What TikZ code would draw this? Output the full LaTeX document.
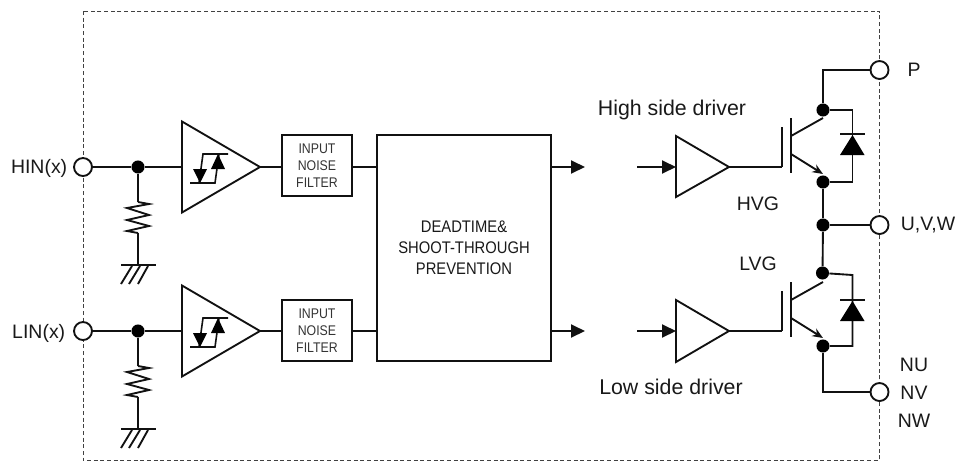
\documentclass[tikz,border=0pt]{standalone}
\usepackage{fontspec}
\setmainfont{Liberation Sans}
\newfontfamily\narrowf[FakeStretch=0.88]{Liberation Sans}
\usetikzlibrary{arrows.meta}
\definecolor{ink}{HTML}{111111}
\tikzset{
  x=0.75pt,y=-0.75pt,
  wire/.style={draw=ink,line width=1.4pt,line join=miter},
  thin wire/.style={draw=ink,line width=1.2pt},
  frame/.style={draw=ink!80,line width=0.75pt,densely dashed},
  term/.style={circle,draw=ink,fill=white,line width=1.4pt,minimum size=13.5pt,inner sep=0pt},
  dot/.style={circle,fill=black,minimum size=9.8pt,inner sep=0pt},
  fbox/.style={draw=ink,line width=1.5pt,minimum width=52.5pt,minimum height=45.75pt,inner sep=0pt,align=center,font=\narrowf\fontsize{10.5}{12.75}\selectfont,text=black!80},
  bigbox/.style={draw=ink,line width=1.5pt,minimum width=130.5pt,minimum height=169.5pt,inner sep=0pt,align=center,font=\narrowf\fontsize{12.6}{15.75}\selectfont,text=black!90},
  lab/.style={font=\fontsize{14.6}{15}\selectfont,text=black!90,inner sep=0pt},
  biglab/.style={font=\fontsize{16}{16}\selectfont,text=black!90,inner sep=0pt},
  solidhead/.style={fill=black,draw=none},
  sig/.style={wire,-{Triangle[length=10.5pt,width=9.75pt]}},
}
\newcommand{\inputchain}[2]{%
  \begin{scope}[shift={(0,#1)}]
    \coordinate (tl#2) at (182,-45.5);
    \coordinate (bl#2) at (182,45.5);
    \coordinate (tip#2) at (260,0);
    \coordinate (in#2) at (182,0);
    \draw[wire,fill=white] (tl#2) -- (tip#2) -- (bl#2) -- cycle;
    \draw[thin wire] (190,16) -- (215,16) -- (219,-13) -- (228,-13) (228,-13) -- (203,-13) -- (199,16);
    \fill[solidhead] (193,2) -- (207,2) -- (200,16) -- cycle;
    \fill[solidhead] (211,2) -- (225,2) -- (218,-13) -- cycle;
    \coordinate (rt#2) at (138,35);
    \coordinate (rb#2) at (138,66);
    \coordinate (gnd#2) at (138,98);
    \draw[wire] (rt#2) -- (149,37) -- (127,41) -- (149,48) -- (127,53) -- (149,59) -- (127,64) -- (rb#2);
    \draw[wire] (rb#2) -- (gnd#2);
    \draw[wire] (121,98) -- (156,98);
    \draw[wire] (132,99) -- (121,117) (140,99) -- (129,117) (148,99) -- (138,117);
  \end{scope}
}
\newcommand{\igbt}[2]{%
  \begin{scope}[shift={(0,#1)}]
    \draw[wire] (782,-40) -- (782,0);
    \draw[wire] (791,-49) -- (791,6);
    \draw[wire] (791,-31) -- (823,-49);
    \draw[wire,-{Stealth[length=8pt,width=6.5pt]}] (791,-13) -- (823,7);
  \end{scope}
}
\begin{document}
\begin{tikzpicture}
\useasboundingbox (0,0) rectangle (956,461);
\draw[frame] (83,11) rectangle (879.5,460.3);

\inputchain{167}{A}
\inputchain{331}{B}

\node[fbox] (fa) at (317,165.5) {\raisebox{-0.75pt}{INPUT}\\\raisebox{-0.75pt}{NOISE}\\\raisebox{-0.75pt}{FILTER}};
\node[fbox] (fb) at (317,330.5) {\raisebox{-0.75pt}{INPUT}\\\raisebox{-0.75pt}{NOISE}\\\raisebox{-0.75pt}{FILTER}};
\node[bigbox] (core) at (464,248) {DEADTIME\&\\SHOOT-THROUGH\\PREVENTION};

\node[term] (hin) at (83,167) {};
\node[term] (lin) at (83,331) {};
\node[dot] (ja) at (138,167) {};
\node[dot] (jb) at (138,331) {};

\draw[wire] (hin) -- (ja);
\draw[wire] (ja) -- (inA);
\draw[wire] (ja) -- (rtA);
\draw[wire] (tipA) -- (fa.west |- tipA);
\draw[wire] (fa.east |- tipA) -- (core.west |- tipA);
\draw[wire] (lin) -- (jb);
\draw[wire] (jb) -- (inB);
\draw[wire] (jb) -- (rtB);
\draw[wire] (tipB) -- (fb.west |- tipB);
\draw[wire] (fb.east |- tipB) -- (core.west |- tipB);

\node[lab,anchor=east] at (67.5,168.5) {HIN(x)};
\node[lab,anchor=east] at (65.5,333.5) {LIN(x)};

\coordinate (oa) at (585,167);
\coordinate (ob) at (585,331);
\draw[sig] (core.east |- oa) -- (oa);
\draw[sig] (core.east |- ob) -- (ob);

\coordinate (da) at (676,167);
\coordinate (db) at (676,331);
\coordinate (sa) at (637,167);
\coordinate (sb) at (637,331);
\draw[sig] (sa) -- (da);
\draw[sig] (sb) -- (db);
\coordinate (dta) at (729,167);
\coordinate (dtb) at (729,331);
\draw[wire,fill=white] (676,136) -- (dta) -- (676,197) -- cycle;
\draw[wire,fill=white] (676,300) -- (dtb) -- (676,362) -- cycle;
\coordinate (ga) at (782,167);
\coordinate (gb) at (782,331);
\draw[wire] (dta) -- (ga);
\draw[wire] (dtb) -- (gb);
\igbt{167}{A}
\igbt{331}{B}

\node[term] (P) at (879.5,70) {};
\node[term] (U) at (879.5,225) {};
\node[term] (N) at (879.5,392) {};
\node[dot] (c1) at (823,110) {};
\node[dot] (e1) at (823,182) {};
\node[dot] (mid) at (823,225) {};
\node[dot] (c2) at (822.5,273) {};
\node[dot] (e2) at (823,346) {};
\draw[wire] (P) -| (c1);
\draw[wire] (e1) -- (mid);
\draw[wire] (mid) -- (c2);
\draw[wire] (mid) -- (U);
\draw[wire] (e2) |- (N);

\coordinate (d1t) at (852.5,110);
\coordinate (d1b) at (852.5,182);
\coordinate (d2t) at (852.5,275);
\coordinate (d2b) at (852.5,346);
\draw[wire] (c1) -- (d1t) -- (d1b) -- (e1);
\draw[wire] (c2) -- (d2t) -- (d2b) -- (e2);
\draw[wire] (840,134) -- (865,134);
\fill[solidhead] (852.5,135) -- (864.5,155) -- (840,155) -- cycle;
\draw[wire] (840,300) -- (865,300);
\fill[solidhead] (852.5,301) -- (864.5,321) -- (840,321) -- cycle;

\node[biglab] at (672,109.5) {High side driver};
\node[biglab] at (671,387) {Low side driver};
\node[lab] at (758,204) {HVG};
\node[lab] at (758,264) {LVG};
\node[lab] at (914,70) {P};
\node[lab] at (928,225) {U,V,W};
\node[lab] at (914,365) {NU};
\node[lab] at (914,393) {NV};
\node[lab] at (914,421) {NW};
\end{tikzpicture}
\end{document}
